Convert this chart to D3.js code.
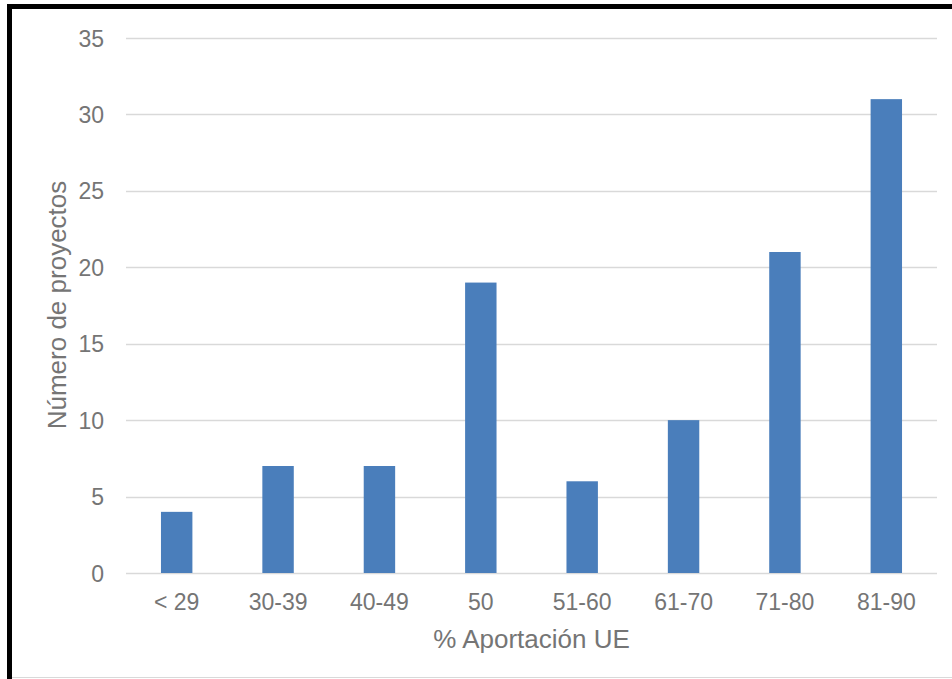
<!DOCTYPE html>
<html>
<head>
<meta charset="utf-8">
<script src="https://cdn.jsdelivr.net/npm/d3@7"></script>
<style>
  html, body { margin: 0; padding: 0; background: #fff; }
  svg { display: block; }
</style>
</head>
<body>
<svg id="chart" width="952" height="679"></svg>
<script>
// Projects by EU contribution share
const categories = ["< 29", "30-39", "40-49", "50", "51-60", "61-70", "71-80", "81-90"];
const projectCounts = [4, 7, 7, 19, 6, 10, 21, 31];
const yTicks = [0, 5, 10, 15, 20, 25, 30, 35];

const svg = d3.select("#chart");
const W = 952, H = 679;
const plot = { left: 126, right: 937, top: 38, bottom: 573 };
const textColor = "#757575";
const font = "Arial, 'Liberation Sans', sans-serif";

// frame around the chart
svg.append("rect").attr("x", 0).attr("y", 0).attr("width", W).attr("height", H).attr("fill", "#fff");
svg.append("line").attr("x1", 10).attr("x2", W).attr("y1", 677.5).attr("y2", 677.5)
  .attr("stroke", "#d9d9d9").attr("stroke-width", 1);
svg.append("line").attr("x1", 7).attr("x2", W).attr("y1", 6.5).attr("y2", 6.5)
  .attr("stroke", "#000").attr("stroke-width", 5);
svg.append("line").attr("x1", 9.5).attr("x2", 9.5).attr("y1", 4).attr("y2", H)
  .attr("stroke", "#000").attr("stroke-width", 5);

const x = d3.scaleBand().domain(categories).range([plot.left, plot.right]).paddingInner(0.69).paddingOuter(0.345);
const y = d3.scaleLinear().domain([0, 35]).range([plot.bottom, plot.top]);

// horizontal gridlines
svg.append("g").selectAll("line").data(yTicks).join("line")
  .attr("x1", plot.left).attr("x2", plot.right)
  .attr("y1", d => Math.round(y(d)) + 0.5).attr("y2", d => Math.round(y(d)) + 0.5)
  .attr("stroke", "#d9d9d9").attr("stroke-width", 1.3);

// bars
svg.append("g").selectAll("rect").data(projectCounts).join("rect")
  .attr("x", (d, i) => x(categories[i]))
  .attr("width", x.bandwidth())
  .attr("y", d => y(d))
  .attr("height", d => y(0) - y(d))
  .attr("fill", "#4a7ebb");

// y axis labels
const yAxis = d3.axisLeft(y).tickValues(yTicks).tickSize(0).tickPadding(0);
const gy = svg.append("g").attr("transform", `translate(104,0)`).call(yAxis);
gy.select(".domain").remove();
gy.selectAll("text").attr("font-family", font).attr("font-size", 23).attr("fill", textColor)
  .attr("x", 0).attr("dy", "0.35em");

// x axis labels
const xAxis = d3.axisBottom(x).tickSize(0).tickPadding(0);
const gx = svg.append("g").attr("transform", `translate(0,${plot.bottom})`).call(xAxis);
gx.select(".domain").remove();
gx.selectAll("text").attr("font-family", font).attr("font-size", 23).attr("fill", textColor)
  .attr("y", 37).attr("dy", 0);

// axis titles
svg.append("text").attr("x", (plot.left + plot.right) / 2).attr("y", 648)
  .attr("text-anchor", "middle").attr("font-family", font).attr("font-size", 26)
  .attr("fill", textColor).text("% Aportación UE");
svg.append("text").attr("transform", `translate(66,305) rotate(-90)`)
  .attr("text-anchor", "middle").attr("font-family", font).attr("font-size", 26)
  .attr("fill", textColor).text("Número de proyectos");
</script>
</body>
</html>
